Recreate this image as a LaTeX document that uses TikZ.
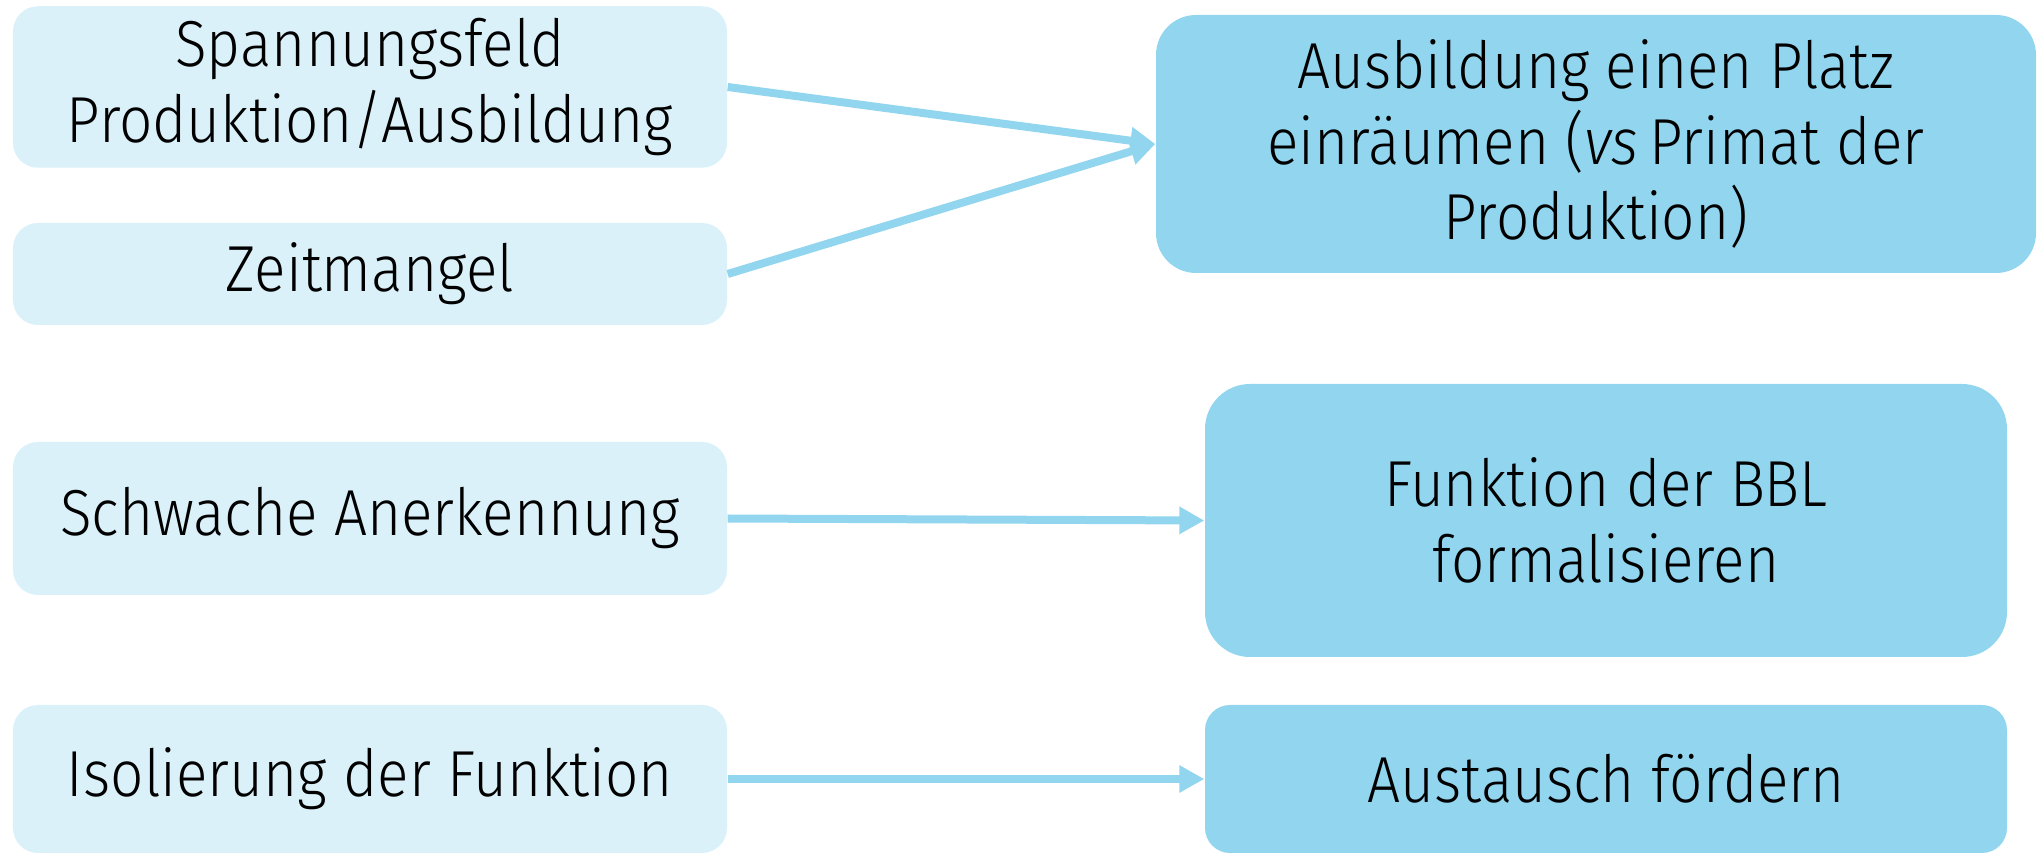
\documentclass[tikz,border=0pt]{standalone}
\usepackage{fontspec}
\setmainfont{Fira Sans Light}[FakeStretch=0.9]
\usepackage{tikz}
\usetikzlibrary{arrows.meta,positioning}

\definecolor{hellblau}{HTML}{DAF1F9}
\definecolor{mittelblau}{HTML}{92D5EE}

\begin{document}
\begin{tikzpicture}[
  ursache/.style={fill=hellblau, rounded corners=0.25cm, minimum width=7.14cm, align=center, inner sep=0pt, font=\fontsize{18.5}{21.5}\selectfont},
  massnahme/.style={fill=mittelblau, align=center, inner sep=0pt, font=\fontsize{18.5}{21.5}\selectfont},
  pfeil/.style={draw=mittelblau, line width=0.08cm, -{Triangle[length=0.25cm,width=0.26cm]}}
]
\useasboundingbox (0,0) rectangle (20.37,-8.55);

\node[ursache, minimum height=1.615cm] (spannung) at (3.70,-0.87) {Spannungsfeld\\Produktion/Ausbildung};
\node[ursache, minimum height=1.02cm] (zeit) at (3.70,-2.74) {Zeitmangel};
\node[ursache, minimum height=1.53cm] (anerk) at (3.70,-5.185) {Schwache Anerkennung};
\node[ursache, minimum height=1.48cm] (isol) at (3.70,-7.79) {Isolierung der Funktion};

\node[massnahme, rounded corners=0.4cm, minimum width=8.8cm, minimum height=2.58cm] (platz) at (15.96,-1.44) {Ausbildung einen Platz\\einräumen (\textit{vs}\,Primat der\\Produktion)};
\node[massnahme, rounded corners=0.45cm, minimum width=8.02cm, minimum height=2.73cm] (formal) at (16.06,-5.205) {Funktion der BBL\\formalisieren};
\node[massnahme, rounded corners=0.25cm, minimum width=8.02cm, minimum height=1.48cm] (austausch) at (16.06,-7.79) {Austausch fördern};

\draw[pfeil] (spannung.east) -- (platz.west);
\draw[pfeil] (zeit.east) -- (platz.west);
\draw[pfeil] (anerk.east) -- (formal.west);
\draw[pfeil] (isol.east) -- (austausch.west);

\end{tikzpicture}
\end{document}
